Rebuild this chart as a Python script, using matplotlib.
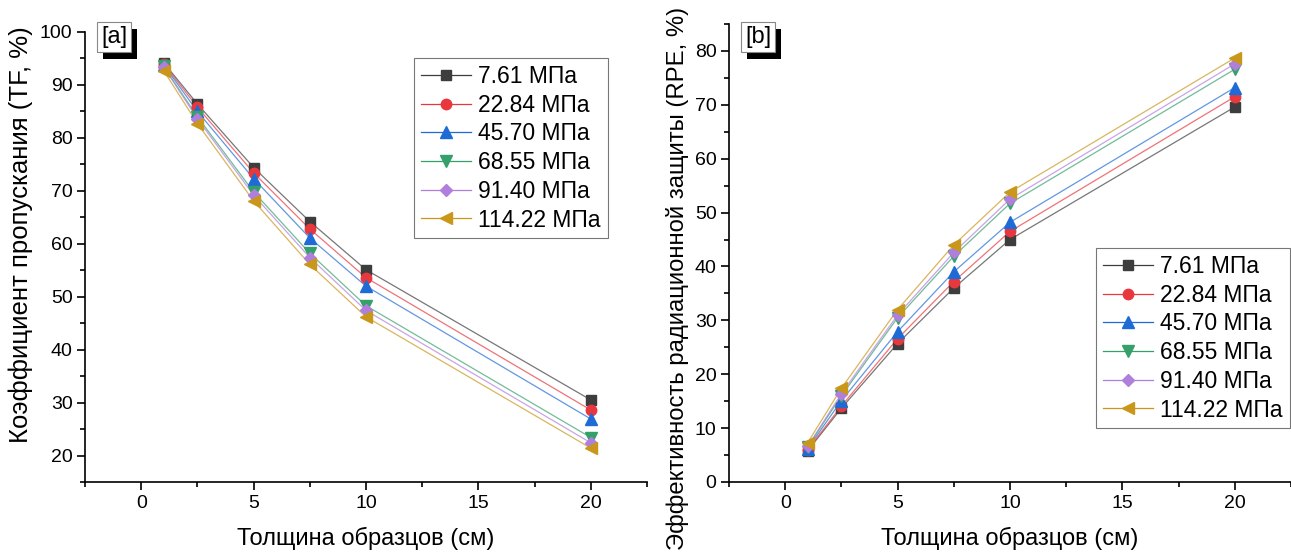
import numpy as np
import matplotlib.pyplot as plt
from matplotlib.ticker import MultipleLocator
from matplotlib.patches import Rectangle

plt.rcParams['font.family'] = ['Liberation Sans', 'DejaVu Sans']

# thickness of samples, cm
thickness = [1, 2.5, 5, 7.5, 10, 20]

pressures = ['7.61 МПа', '22.84 МПа', '45.70 МПа', '68.55 МПа', '91.40 МПа', '114.22 МПа']

# transmission factor TF, %
tf_761 = [94.2, 86.4, 74.4, 64.2, 55.1, 30.5]
tf_2284 = [94.0, 85.8, 73.4, 62.8, 53.6, 28.6]
tf_4570 = [93.8, 85.0, 72.3, 61.1, 52.0, 26.9]
tf_6855 = [93.5, 84.0, 69.8, 58.2, 48.3, 23.4]
tf_9140 = [93.4, 83.6, 69.2, 57.4, 47.4, 22.4]
tf_11422 = [92.7, 82.7, 68.1, 56.1, 46.2, 21.4]

# radiation protection efficiency RPE, %
rpe_761 = [5.8, 13.7, 25.7, 36.0, 45.0, 69.6]
rpe_2284 = [6.0, 14.1, 26.6, 37.2, 46.5, 71.5]
rpe_4570 = [6.2, 15.1, 27.9, 39.0, 48.2, 73.2]
rpe_6855 = [6.5, 16.0, 30.5, 41.9, 51.7, 76.6]
rpe_9140 = [6.6, 16.4, 31.0, 42.6, 52.5, 77.6]
rpe_11422 = [7.3, 17.4, 32.0, 44.0, 53.8, 78.7]

tf_all = [tf_761, tf_2284, tf_4570, tf_6855, tf_9140, tf_11422]
rpe_all = [rpe_761, rpe_2284, rpe_4570, rpe_6855, rpe_9140, rpe_11422]

colors = ['#3d3d3d', '#e8383d', '#1f6bd6', '#35a06a', '#b07fdc', '#c9971a']
markers = ['s', 'o', '^', 'v', 'D', '<']
msizes = [7, 7.5, 8, 8, 6, 8]

W, H = 1291, 554
fig = plt.figure(figsize=(W / 100, H / 100), dpi=100)
ax1 = fig.add_axes([85 / W, 1 - 482 / H, 562 / W, 450 / H])
ax2 = fig.add_axes([729 / W, 1 - 482 / H, 562 / W, 458 / H])

tags = []


def draw_panel(ax, series, ylabel, ylim, yticks, tag, tag_xy, leg_xy,
               ysize, ylab_xy):
    for vals, lab, c, m, ms in zip(series, pressures, colors, markers, msizes):
        ax.plot(thickness, vals, color=c, lw=0.9, alpha=0.7, zorder=2)
        ax.plot(thickness, vals, ls='none', marker=m, ms=ms, color=c,
                mec=c, zorder=3)
        ax.plot([], [], color=c, lw=0.9, marker=m, ms=ms, mec=c, label=lab)

    ax.set_xlim(-2.5, 22.5)
    ax.set_ylim(*ylim)
    ax.set_xticks([0, 5, 10, 15, 20])
    ax.set_yticks(yticks)
    ax.xaxis.set_minor_locator(MultipleLocator(2.5))
    ax.yaxis.set_minor_locator(MultipleLocator(5))
    ax.spines['top'].set_visible(False)
    ax.spines['right'].set_visible(False)
    for s in ('left', 'bottom'):
        ax.spines[s].set_linewidth(1.2)
    ax.tick_params(which='major', direction='out', length=6, width=1.2,
                   labelsize=14, pad=3)
    ax.tick_params(which='minor', direction='out', length=3.5, width=1.2)
    ax.set_xlabel('Толщина образцов (см)', fontsize=17, labelpad=11)
    ax.set_ylabel(ylabel, fontsize=ysize)
    ax.yaxis.set_label_coords(*ylab_xy)

    # panel tag in a box
    tx, ty = tag_xy
    t = fig.text(tx / W, 1 - ty / H, tag, fontsize=17, color='black',
                 ha='center', va='center', zorder=5,
                 bbox=dict(boxstyle='square,pad=0.15', fc='white',
                           ec='#888888', lw=0.8))
    tags.append(t)

    leg = ax.legend(loc='upper left', bbox_to_anchor=leg_xy,
                    bbox_transform=fig.transFigure, fontsize=16.5,
                    frameon=True, fancybox=False, edgecolor='#555555',
                    handlelength=2.2, handletextpad=0.3, labelspacing=0.25,
                    borderpad=0.3, borderaxespad=0)
    leg.get_frame().set_linewidth(0.8)


draw_panel(ax1, tf_all, 'Коэффициент пропускания (TF, %)', (15, 100),
           np.arange(20, 101, 10), '[a]', (114, 37),
           (414 / W, 1 - 58 / H), 18.5, (-0.092, 0.549))
draw_panel(ax2, rpe_all, 'Эффективность радиационной защиты (RPE, %)', (0, 85),
           np.arange(0, 81, 10), '[b]', (758, 37),
           (1096 / W, 1 - 248 / H), 17.2, (-0.071, 0.445))

# black drop shadow behind the panel tags
fig.canvas.draw()
for t in tags:
    bb = t.get_bbox_patch().get_window_extent()
    fig.patches.append(Rectangle(((bb.x0 + 6) / W, (bb.y0 - 7) / H),
                                 bb.width / W, bb.height / H,
                                 transform=fig.transFigure, fc='black',
                                 ec='none', zorder=4))

fig.savefig('out.png', dpi=100)
